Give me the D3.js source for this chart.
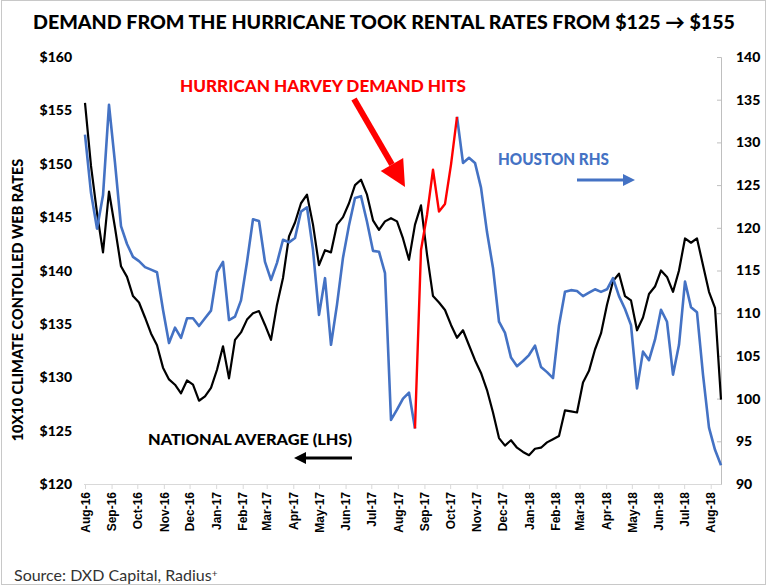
<!DOCTYPE html>
<html>
<head>
<meta charset="utf-8">
<script src="https://cdn.jsdelivr.net/npm/d3@7"></script>
<style>
  body { margin: 0; background: #fff; }
  svg { display: block; font-family: "Lato", "Open Sans", sans-serif; }
</style>
</head>
<body>
<svg id="chart" width="768" height="587"></svg>
<script>
// weekly readings, starting first week of Aug-16
const startDate = new Date(2016, 7, 1);

// national average, $ per month (LHS)
const national = [
  155.7, 149.8, 145.4, 141.7, 147.4, 144.0, 140.4, 139.4, 137.6, 137.0,
  135.6, 134.1, 133.0, 130.9, 129.8, 129.3, 128.5, 129.7, 129.3, 127.8,
  128.2, 129.0, 130.7, 132.9, 129.9, 133.5, 134.2, 135.4, 136.0, 136.2,
  134.9, 133.5, 136.8, 139.3, 143.2, 144.5, 146.3, 147.1, 144.3, 140.5,
  141.9, 141.7, 144.3, 145.0, 146.3, 148.0, 148.5, 147.1, 144.7, 143.8,
  144.6, 144.9, 144.6, 143.0, 141.0, 144.3, 146.1, 141.5, 137.6, 137.0,
  136.3, 134.9, 133.7, 134.4, 133.0, 131.6, 130.4, 128.8, 126.7, 124.3,
  123.6, 124.1, 123.4, 123.0, 122.7, 123.3, 123.4, 123.9, 124.2, 124.5,
  126.9, 126.8, 126.7, 129.5, 130.6, 132.6, 134.1, 136.8, 139.0, 139.7,
  137.6, 137.2, 134.4, 135.6, 137.8, 138.5, 140.0, 139.4, 138.0, 140.0,
  143.0, 142.6, 143.0, 140.5, 138.0, 136.5, 127.9
];

// houston (RHS)
const houston = [
  130.9, 124.1, 119.9, 123.8, 134.4, 127.6, 120.2, 118.1, 116.6, 116.1,
  115.4, 115.1, 114.8, 110.4, 106.5, 108.3, 107.1, 109.4, 109.4, 108.5,
  109.4, 110.3, 114.8, 116.0, 109.2, 109.6, 111.5, 116.0, 121.0, 120.8,
  116.0, 113.9, 115.9, 118.6, 118.3, 118.8, 121.9, 122.4, 117.4, 109.8,
  114.1, 106.3, 111.0, 116.5, 120.3, 123.5, 123.7, 120.7, 117.3, 117.2,
  114.7, 97.5, 98.7, 100.0, 100.7, 96.5, 117.4, 121.5, 126.8, 121.9,
  122.8, 127.4, 133.0, 127.6, 128.2, 127.6, 124.7, 119.5, 115.3, 109.0,
  107.7, 104.8, 103.8, 104.4, 105.1, 106.2, 103.7, 103.1, 102.4, 108.6,
  112.5, 112.7, 112.6, 112.0, 112.4, 112.8, 112.5, 112.8, 114.1, 112.0,
  110.5, 108.6, 101.2, 105.5, 104.5, 106.9, 110.4, 109.0, 102.8, 106.3,
  113.7, 110.7, 110.1, 102.8, 96.6, 94.0, 92.2
];

// weeks of the hurricane jump, drawn in red
const harveyWeeks = [55, 62];

const leftTicks = [120, 125, 130, 135, 140, 145, 150, 155, 160];
const rightTicks = [90, 95, 100, 105, 110, 115, 120, 125, 130, 135, 140];

const svg = d3.select("#chart");

const dates = national.map((d, i) => d3.timeWeek.offset(startDate, i));

const x = d3.scaleTime()
  .domain([startDate, dates[dates.length - 1]])
  .range([85, 721]);
const yL = d3.scaleLinear().domain([120, 160]).range([484, 57]);
const yR = d3.scaleLinear().domain([90, 140]).range([484, 57]);

// frame
svg.append("rect")
  .attr("x", 1.5).attr("y", 0.5)
  .attr("width", 764).attr("height", 584)
  .attr("fill", "none")
  .attr("stroke", "#c8c8c8");

// title
svg.append("text")
  .attr("x", 384).attr("y", 29)
  .attr("text-anchor", "middle")
  .style("font-size", "19.6px")
  .style("font-weight", 900)
  .text("DEMAND FROM THE HURRICANE TOOK RENTAL RATES FROM $125 \u2192 $155");

// left axis labels (no line)
svg.append("g").selectAll("text")
  .data(leftTicks)
  .join("text")
  .attr("x", 72)
  .attr("y", d => yL(d) + 5)
  .attr("text-anchor", "end")
  .style("font-size", "14px")
  .style("font-weight", 900)
  .text(d => "$" + d);

// right axis
const rightAxis = svg.append("g")
  .attr("transform", "translate(721,0)")
  .call(d3.axisRight(yR).tickValues(rightTicks).tickSize(-4).tickPadding(15));
rightAxis.select(".domain").attr("stroke", "#bfbfbf");
rightAxis.selectAll(".tick line").attr("stroke", "#bfbfbf");
rightAxis.selectAll(".tick text")
  .attr("fill", "#000")
  .style("font-family", "Lato, sans-serif")
  .style("font-size", "14px")
  .style("font-weight", 900);

// bottom axis with month labels
const months = d3.timeMonth.range(startDate, d3.timeDay.offset(dates[dates.length - 1], 1));
const bottomAxis = svg.append("g")
  .attr("transform", "translate(0,484)")
  .call(d3.axisBottom(x).tickValues(months).tickFormat(d3.timeFormat("%b-%y")).tickSize(5).tickSizeOuter(0));
bottomAxis.select(".domain").attr("stroke", "#d9d9d9").attr("d", "M84,0.5H721");
bottomAxis.selectAll(".tick line").attr("stroke", "#d9d9d9");
bottomAxis.selectAll(".tick text")
  .attr("transform", "rotate(-90)")
  .attr("x", -8).attr("y", 0).attr("dy", "0.35em")
  .attr("text-anchor", "end")
  .attr("fill", "#000")
  .style("font-family", "'Liberation Sans', Arial, sans-serif")
  .style("font-size", "12px")
  .style("font-weight", "bold");

// y-axis title
svg.append("text")
  .attr("transform", "translate(23,300) rotate(-90)")
  .attr("text-anchor", "middle")
  .style("font-size", "14.5px")
  .style("font-weight", 900)
  .text("10X10 CLIMATE CONTOLLED WEB RATES");

// lines
const lineL = d3.line().x((d, i) => x(dates[i])).y(d => yL(d));
svg.append("path")
  .datum(national)
  .attr("fill", "none")
  .attr("stroke", "#000")
  .attr("stroke-width", 2.2)
  .attr("stroke-linejoin", "round")
  .attr("d", lineL);

const lineR = d3.line()
  .defined((d, i) => i <= harveyWeeks[0] || i >= harveyWeeks[1])
  .x((d, i) => x(dates[i])).y(d => yR(d));
svg.append("path")
  .datum(houston)
  .attr("fill", "none")
  .attr("stroke", "#4472c4")
  .attr("stroke-width", 2.6)
  .attr("stroke-linejoin", "round")
  .attr("d", lineR);

const lineRed = d3.line()
  .defined((d, i) => i >= harveyWeeks[0] && i <= harveyWeeks[1])
  .x((d, i) => x(dates[i])).y(d => yR(d));
svg.append("path")
  .datum(houston)
  .attr("fill", "none")
  .attr("stroke", "#ff0000")
  .attr("stroke-width", 2.4)
  .attr("stroke-linejoin", "round")
  .attr("d", lineRed);

// annotations
function arrow(x1, y1, x2, y2, color, width, head) {
  const ang = Math.atan2(y2 - y1, x2 - x1);
  const bx = x2 - head * Math.cos(ang), by = y2 - head * Math.sin(ang);
  const px = Math.sin(ang) * head * 0.5, py = -Math.cos(ang) * head * 0.5;
  svg.append("line")
    .attr("x1", x1).attr("y1", y1).attr("x2", bx).attr("y2", by)
    .attr("stroke", color).attr("stroke-width", width);
  svg.append("path")
    .attr("d", `M${x2},${y2}L${bx + px},${by + py}L${bx - px},${by - py}Z`)
    .attr("fill", color);
}

svg.append("text")
  .attr("x", 180).attr("y", 92)
  .attr("textLength", 286)
  .attr("lengthAdjust", "spacingAndGlyphs")
  .attr("fill", "#ff0000")
  .style("font-size", "17px")
  .style("font-weight", 900)
  .text("HURRICAN HARVEY DEMAND HITS");
arrow(354, 99, 405, 187, "#ff0000", 6, 26);

svg.append("text")
  .attr("x", 498).attr("y", 165)
  .attr("textLength", 111)
  .attr("lengthAdjust", "spacingAndGlyphs")
  .attr("fill", "#4472c4")
  .style("font-size", "16px")
  .style("font-weight", 900)
  .text("HOUSTON RHS");
arrow(577, 180, 635, 180, "#4472c4", 3, 12);

svg.append("text")
  .attr("x", 148).attr("y", 445)
  .attr("textLength", 204)
  .attr("lengthAdjust", "spacingAndGlyphs")
  .style("font-size", "14.5px")
  .style("font-weight", 900)
  .text("NATIONAL AVERAGE (LHS)");
arrow(352, 458, 294, 458, "#000", 3, 12);

// source
const src = svg.append("text")
  .attr("x", 14).attr("y", 581)
  .attr("fill", "#333")
  .style("font-size", "16px")
  .text("Source: DXD Capital, Radius");
src.append("tspan")
  .attr("dy", -4)
  .style("font-size", "10px")
  .text("+");
</script>
</body>
</html>
